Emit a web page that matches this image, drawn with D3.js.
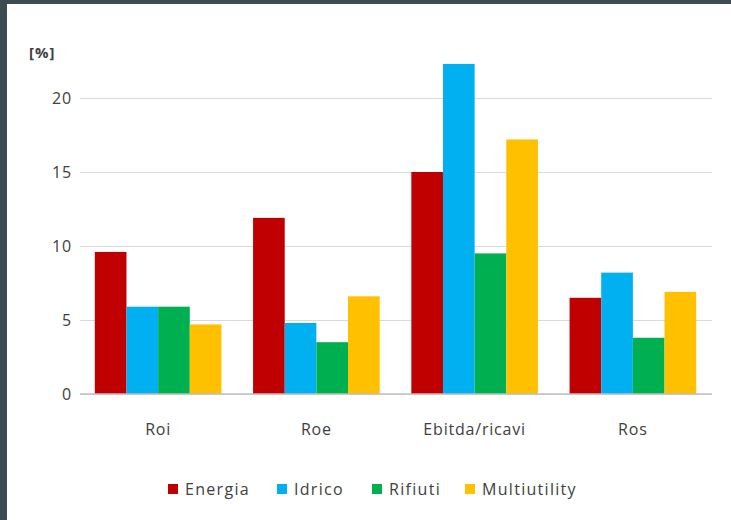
<!DOCTYPE html>
<html><head><meta charset="utf-8">
<script src="https://cdn.jsdelivr.net/npm/d3@7"></script>
<style>
html,body{margin:0;padding:0;background:#fff;}
svg{display:block;}
text{font-family:"Open Sans","DejaVu Sans",sans-serif;fill:#404040;letter-spacing:0.8px;}
</style></head>
<body><svg id="c" width="731" height="520"></svg>
<script>
const categories = ["Roi", "Roe", "Ebitda/ricavi", "Ros"];
const seriesNames = ["Energia", "Idrico", "Rifiuti", "Multiutility"];
const energia = [9.6, 11.9, 15.0, 6.5];
const idrico = [5.9, 4.8, 22.3, 8.2];
const rifiuti = [5.9, 3.5, 9.5, 3.8];
const multiutility = [4.7, 6.6, 17.2, 6.9];
const yTicks = [0, 5, 10, 15, 20];
const colors = ["#c00000", "#00b0f0", "#00b050", "#ffc000"];

const values = [energia, idrico, rifiuti, multiutility];
const svg = d3.select("#c");

// frame
svg.append("rect").attr("x",0).attr("y",0).attr("width",731).attr("height",520).attr("fill","#3d4b53");
svg.append("rect").attr("x",7).attr("y",4).attr("width",724).attr("height",516).attr("fill","#ffffff");

const x0 = d3.scaleBand().domain(categories).range([79, 712]).paddingInner(0.2).paddingOuter(0.1);
const x1 = d3.scaleBand().domain(seriesNames).range([0, x0.bandwidth()]);
const y = d3.scaleLinear().domain([0, 20]).range([394, 98]);

// gridlines
const yAxis = d3.axisLeft(y).tickValues(yTicks).tickSize(-(712-80)).tickPadding(8).tickFormat(d3.format("d"));
const ga = svg.append("g").attr("transform","translate(80,0)").call(yAxis);
ga.select(".domain").remove();
ga.selectAll(".tick line").attr("stroke","#d9d9d9").attr("stroke-width",1);
ga.selectAll(".tick text").style("font-size","16px").attr("fill","#404040");

// bars
const groups = svg.selectAll("g.grp").data(categories).enter().append("g")
  .attr("class","grp").attr("transform", d => `translate(${x0(d)},0)`);
groups.selectAll("rect").data((d,i) => seriesNames.map((s,j) => ({s, v: values[j][i], j})))
  .enter().append("rect")
  .attr("x", d => x1(d.s)).attr("width", x1.bandwidth())
  .attr("y", d => y(d.v)).attr("height", d => y(0) - y(d.v))
  .attr("fill", d => colors[d.j]);

// baseline
svg.append("line").attr("x1",80).attr("x2",712).attr("y1",y(0)).attr("y2",y(0)).attr("stroke","#bfbfbf").attr("stroke-width",1.5);

// x axis labels
const xAxis = d3.axisBottom(x0).tickSize(0).tickPadding(0);
const gx = svg.append("g").attr("transform","translate(0,424)").call(xAxis);
gx.select(".domain").remove();
gx.selectAll(".tick text").style("font-size","16px").attr("fill","#404040");

// unit label
svg.append("text").attr("x",29).attr("y",58).style("font-size","15px").style("font-weight","bold").style("letter-spacing","1px").attr("fill","#404040").text("[%]");

// legend
const legX = [168, 277, 372, 465];
const leg = svg.selectAll("g.leg").data(seriesNames).enter().append("g")
  .attr("class","leg").attr("transform",(d,i)=>`translate(${legX[i]},484)`);
leg.append("rect").attr("x",0).attr("y",0).attr("width",10).attr("height",10).attr("fill",(d,i)=>colors[i]);
leg.append("text").attr("x",17).attr("y",11).style("font-size","16px").style("letter-spacing","1.3px").attr("fill","#404040").text(d=>d);
</script></body></html>
